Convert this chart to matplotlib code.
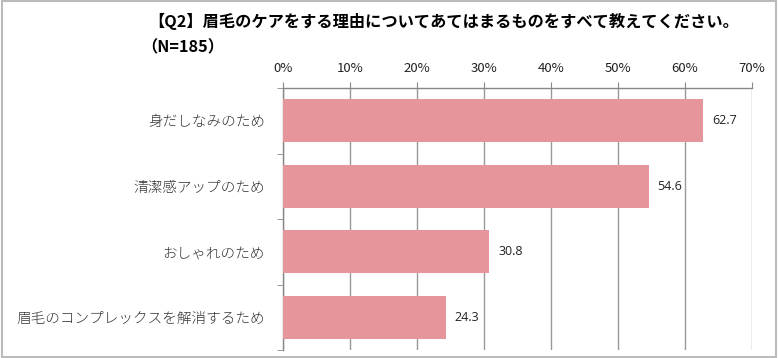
import numpy as np
import matplotlib.pyplot as plt
from matplotlib.patches import Rectangle

plt.rcParams['font.family'] = ['Noto Sans CJK JP', 'DejaVu Sans']

categories = ['身だしなみのため', '清潔感アップのため', 'おしゃれのため', '眉毛のコンプレックスを解消するため']
values = [62.7, 54.6, 30.8, 24.3]
xticks = [0, 10, 20, 30, 40, 50, 60, 70]
title = '【Q2】眉毛のケアをする理由についてあてはまるものをすべて教えてください。'
subtitle = '（N=185）'

fig = plt.figure(figsize=(7.78, 3.58), dpi=100)
ax = fig.add_axes([283/778, 1-350/358, (752-283)/778, (350-88)/358])

y = np.arange(len(categories))
ax.barh(y, values, height=0.65, color='#e6959a', zorder=3)
for yi, v in zip(y, values):
    ax.text(v + 1.3, yi, f'{v:.1f}', va='center', ha='left', fontsize=9, color='#222222',
            family=['Open Sans', 'DejaVu Sans'])

ax.set_xlim(0, 70)
ax.set_ylim(len(categories) - 0.5, -0.5)
ax.xaxis.tick_top()
ax.set_xticks(xticks)
ax.set_xticklabels([f'{t}%' for t in xticks], fontsize=9.5, color='#222222')
ax.tick_params(axis='x', length=4, color='#888888', pad=5)
ax.set_yticks(y)
ax.set_yticklabels(categories, fontsize=10.5, color='#333333', fontweight='light')
ax.tick_params(axis='y', which='major', length=0, pad=13)
ax.set_yticks(np.arange(-0.5, len(categories)), minor=True)
ax.tick_params(axis='y', which='minor', length=4, color='#888888')
ax.grid(axis='x', color='#999999', linewidth=1, zorder=0)
for s in ['right', 'bottom']:
    ax.spines[s].set_visible(False)
for s in ['top', 'left']:
    ax.spines[s].set_color('#888888')
    ax.spines[s].set_linewidth(1)

fig.text(148/778, 1-21/358, title, fontsize=11.7, fontweight='bold', va='center', ha='left')
fig.text(141/778, 1-47/358, subtitle, fontsize=11.7, fontweight='bold', va='center', ha='left')

fig.patches.append(Rectangle((0.002, 0.004), 0.995, 0.992, transform=fig.transFigure,
                             fill=False, edgecolor='#bbbbbb', linewidth=1.5))

fig.savefig('out.png', dpi=100)
